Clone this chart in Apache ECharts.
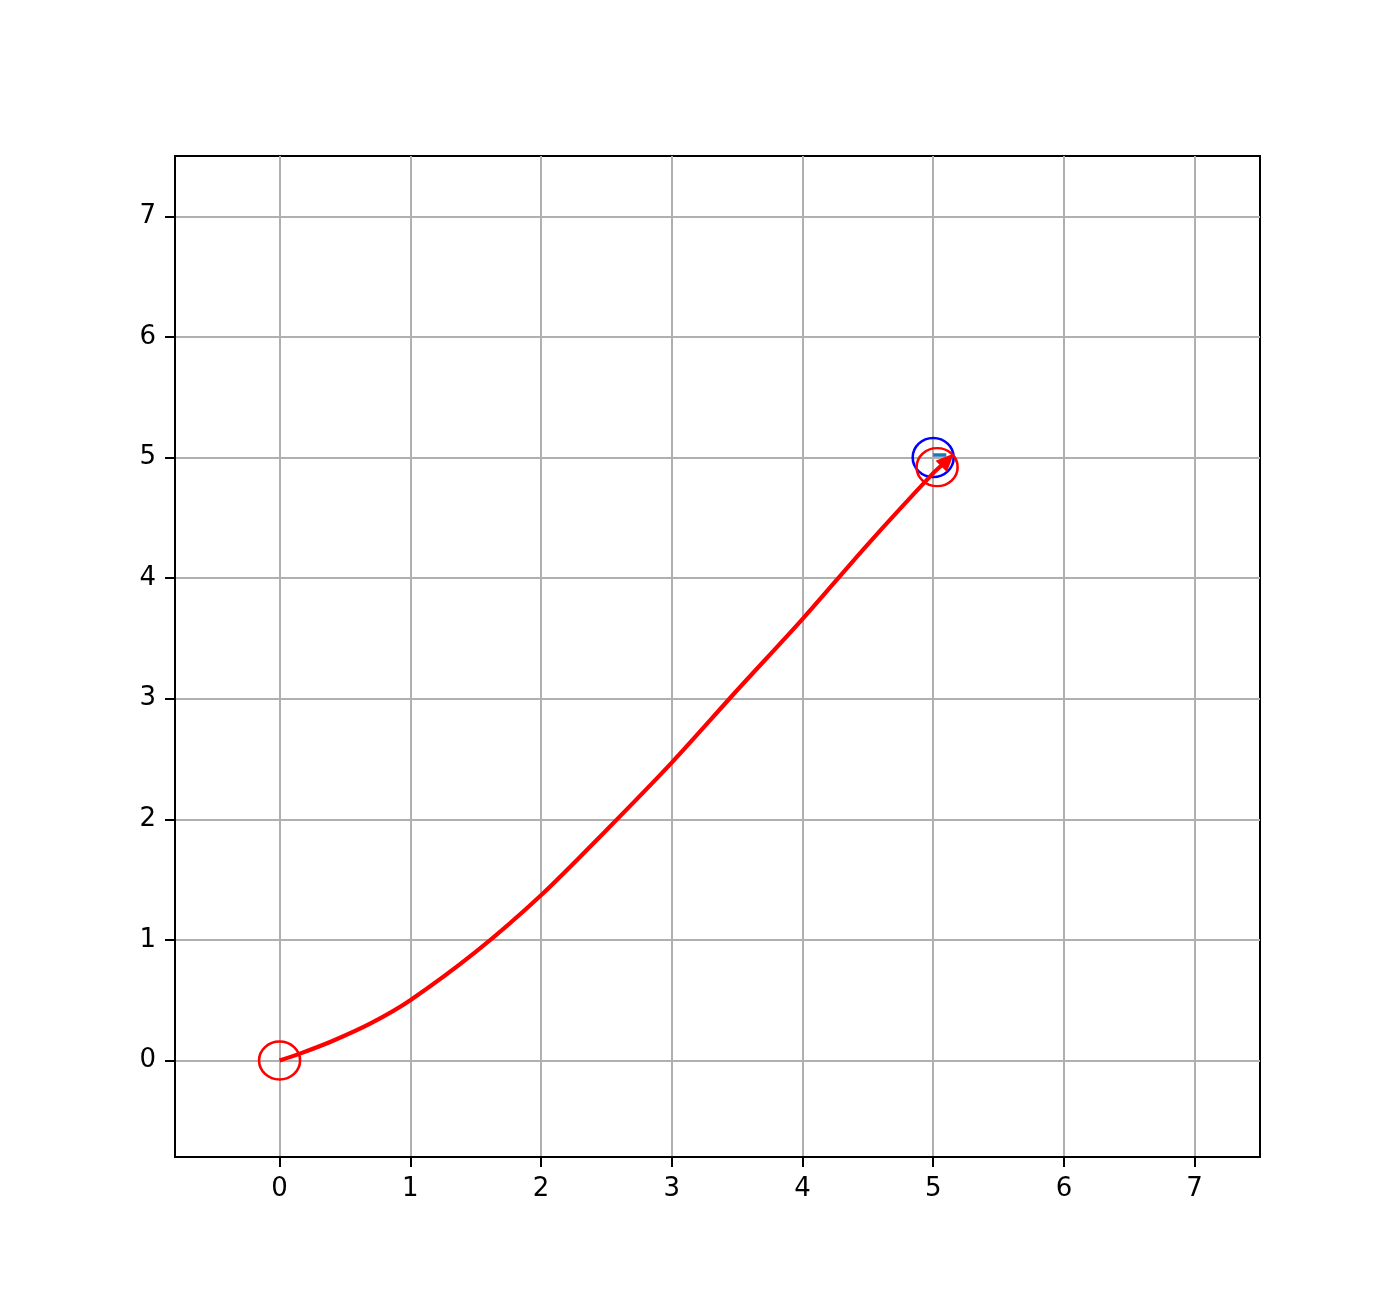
<!DOCTYPE html>
<html>
<head>
<meta charset="utf-8">
<script src="https://cdn.jsdelivr.net/npm/echarts@6/dist/echarts.min.js"></script>
<style>html,body{margin:0;padding:0;background:#fff}#c{width:1400px;height:1300px}</style>
</head>
<body>
<div id="c"></div>
<script>
// Trajectory path (red curve)
const pathX = [0, 0.15, 0.4, 0.7, 1.0, 1.5, 2.0, 2.5, 3.0, 3.5, 4.0, 4.5, 5.0, 5.07];
const pathY = [0, 0.055, 0.16, 0.31, 0.50, 0.90, 1.37, 1.91, 2.47, 3.07, 3.66, 4.28, 4.87, 4.94];
// Markers
const startPoint = [0, 0];
const endPoint = [5.03, 4.92];
const targetPoint = [5, 5];
const arrowHead = [5.11, 4.98];
// Small segment near target (default colour)
const segX = [5.0, 5.1];
const segY = [5.02, 5.02];
// Axis ticks
const xTicks = [0, 1, 2, 3, 4, 5, 6, 7];
const yTicks = [0, 1, 2, 3, 4, 5, 6, 7];

const chart = echarts.init(document.getElementById('c'), null, {renderer: 'canvas'});
const font = {fontFamily: 'DejaVu Sans', fontSize: 26, color: '#000'};
function axis(ticks) {
  return {
    type: 'value', min: -0.8, max: 7.5,
    axisLine: {show: true, onZero: false, lineStyle: {color: '#000', width: 2}},
    axisTick: {show: true, length: 10, lineStyle: {color: '#000', width: 2}, customValues: ticks},
    axisLabel: Object.assign({margin: 19, customValues: ticks, formatter: v => String(v)}, font),
    splitLine: {show: true, lineStyle: {color: '#b0b0b0', width: 2}},
    splitNumber: 8
  };
}
chart.setOption({
  animation: false,
  backgroundColor: '#fff',
  grid: {left: 175, top: 156, width: 1085, height: 1001, show: true, borderColor: '#000', borderWidth: 2, backgroundColor: 'transparent'},
  xAxis: axis(xTicks),
  yAxis: axis(yTicks),
  series: [
    {type: 'scatter', data: [targetPoint], symbol: 'circle', symbolSize: [41, 39], z: 3,
     itemStyle: {color: 'rgba(0,0,0,0)', borderColor: '#0000ff', borderWidth: 2.5, opacity: 1}},
    {type: 'scatter', data: [startPoint, endPoint], symbol: 'circle', symbolSize: [41, 38], z: 4,
     itemStyle: {color: 'rgba(0,0,0,0)', borderColor: '#ff0000', borderWidth: 2.5, opacity: 1}},
    {type: 'line', data: pathX.map((x, i) => [x, pathY[i]]), showSymbol: false, smooth: 0.3, z: 5,
     lineStyle: {color: '#ff0000', width: 4.2}},
    {type: 'line', data: segX.map((x, i) => [x, segY[i]]), showSymbol: false, z: 5,
     lineStyle: {color: '#1f77b4', width: 3.5}},
    {type: 'scatter', data: [arrowHead], symbol: 'triangle', symbolSize: [16, 18], symbolRotate: -45, z: 6,
     itemStyle: {color: '#ff0000', opacity: 1}}
  ]
});
</script>
</body>
</html>
